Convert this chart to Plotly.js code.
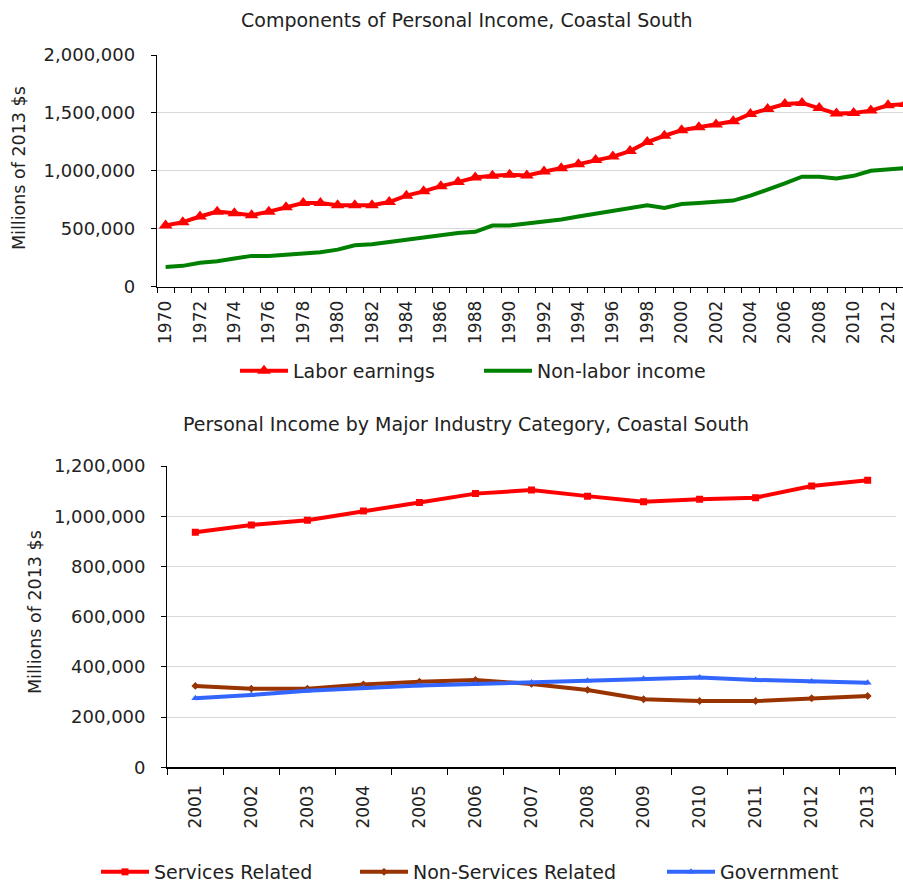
<!DOCTYPE html>
<html>
<head>
<meta charset="utf-8">
<script src="https://cdn.plot.ly/plotly-3.0.1.min.js"></script>
<style>html,body{margin:0;padding:0;background:#fff;}#chart{width:903px;height:882px;}</style>
</head>
<body>
<div id="chart"></div>
<script>
// ---- Top chart data ----
const topYears = [1970,1971,1972,1973,1974,1975,1976,1977,1978,1979,1980,1981,1982,1983,1984,1985,1986,1987,1988,1989,1990,1991,1992,1993,1994,1995,1996,1997,1998,1999,2000,2001,2002,2003,2004,2005,2006,2007,2008,2009,2010,2011,2012,2013];
const laborEarnings = [528000,557000,606000,648000,634000,617000,648000,686000,723000,723000,703000,703000,703000,731000,786000,823000,868000,903000,943000,957000,966000,960000,994000,1023000,1057000,1094000,1123000,1171000,1249000,1303000,1351000,1377000,1400000,1428000,1491000,1534000,1577000,1586000,1543000,1494000,1500000,1520000,1566000,1577000];
const nonLaborIncome = [171000,180000,206000,220000,243000,266000,266000,274000,286000,297000,320000,357000,366000,386000,406000,429000,451000,463000,474000,528000,528000,543000,557000,580000,606000,629000,651000,677000,703000,680000,714000,723000,731000,743000,786000,834000,891000,949000,949000,934000,957000,1000000,1014000,1023000];
const topTickYears = [1970,1972,1974,1976,1978,1980,1982,1984,1986,1988,1990,1992,1994,1996,1998,2000,2002,2004,2006,2008,2010,2012];

// ---- Bottom chart data ----
const botYears = [2001,2002,2003,2004,2005,2006,2007,2008,2009,2010,2011,2012,2013];
const servicesRelated = [936000,965000,984000,1021000,1055000,1090000,1104000,1080000,1058000,1068000,1074000,1120000,1143000];
const nonServicesRelated = [324000,313000,313000,330000,341000,348000,332000,308000,271000,264000,264000,275000,284000];
const government = [275000,288000,305000,317000,326000,332000,338000,345000,353000,358000,348000,342000,337000];

const FONT = "DejaVu Sans, Liberation Sans, Arial, sans-serif";
const W = 903, H = 882;
const px = x => x / W;
const py = y => 1 - y / H;

const traces = [
  {x: topYears, y: laborEarnings, name: 'Labor earnings', type: 'scatter', mode: 'lines+markers',
   line: {color: '#FF0000', width: 4}, marker: {symbol: 'triangle-up', size: 12, color: '#FF0000'},
   xaxis: 'x', yaxis: 'y', legend: 'legend'},
  {x: topYears, y: nonLaborIncome, name: 'Non-labor income', type: 'scatter', mode: 'lines',
   line: {color: '#008000', width: 4}, xaxis: 'x', yaxis: 'y', legend: 'legend2'},
  {x: botYears, y: servicesRelated, name: 'Services Related', type: 'scatter', mode: 'lines+markers',
   line: {color: '#FF0000', width: 4}, marker: {symbol: 'square', size: 7, color: '#FF0000'},
   xaxis: 'x2', yaxis: 'y2', legend: 'legend3'},
  {x: botYears, y: nonServicesRelated, name: 'Non-Services Related', type: 'scatter', mode: 'lines+markers',
   line: {color: '#993300', width: 4}, marker: {symbol: 'diamond', size: 6, color: '#993300'},
   xaxis: 'x2', yaxis: 'y2', legend: 'legend4'},
  {x: botYears, y: government, name: 'Government', type: 'scatter', mode: 'lines+markers',
   line: {color: '#3366FF', width: 4}, marker: {symbol: 'triangle-up', size: 7, color: '#3366FF'},
   xaxis: 'x2', yaxis: 'y2', legend: 'legend5'}
];

const axisCommon = {
  showline: true, linecolor: '#000', linewidth: 1.2, zeroline: false, automargin: false,
  tickfont: {family: FONT, size: 18, color: '#222'}
};

function leg(xLeft, yMid) {
  return {
    orientation: 'h', x: px(xLeft), xanchor: 'left', y: py(yMid), yanchor: 'middle',
    font: {family: FONT, size: 19, color: '#222'}, bgcolor: 'rgba(0,0,0,0)',
    itemwidth: 48, borderwidth: 0, tracegroupgap: 0
  };
}

const layout = {
  width: W, height: H,
  margin: {l: 0, r: 0, t: 0, b: 0, pad: 0, autoexpand: false},
  paper_bgcolor: '#fff', plot_bgcolor: '#fff',
  font: {family: FONT, color: '#222'},
  xaxis: Object.assign({}, axisCommon, {
    domain: [px(157), 1], anchor: 'y',
    range: [1969.5, 2012.87], showgrid: false,
    tickmode: 'array', tickvals: topTickYears, ticktext: topTickYears.map(String),
    ticks: '', tickangle: -90, ticklabelstandoff: 6,
    tickfont: {family: FONT, size: 17, color: '#222'},
    minor: {tickmode: 'linear', tick0: 1969.5, dtick: 1, ticks: 'outside', ticklen: 5, tickcolor: '#000', tickwidth: 1, showgrid: false}
  }),
  yaxis: Object.assign({}, axisCommon, {
    domain: [py(286.7), py(55)], anchor: 'x',
    range: [0, 2000000], tickvals: [0,500000,1000000,1500000,2000000], tickmode: 'array',
    tickformat: ',d', ticks: 'outside', ticklen: 5, tickcolor: '#000', ticklabelstandoff: 12,
    showgrid: true, gridcolor: '#d9d9d9', gridwidth: 1
  }),
  xaxis2: Object.assign({}, axisCommon, {
    domain: [px(167.3), px(895.7)], anchor: 'y2',
    range: [2000.5, 2013.5], showgrid: false,
    tickmode: 'array', tickvals: botYears, ticktext: botYears.map(String),
    ticks: '', tickangle: -90, ticklabelstandoff: 10,
    tickfont: {family: FONT, size: 17, color: '#222'},
    minor: {tickmode: 'linear', tick0: 2000.5, dtick: 1, ticks: 'outside', ticklen: 6, tickcolor: '#000', tickwidth: 1, showgrid: false}
  }),
  yaxis2: Object.assign({}, axisCommon, {
    domain: [py(767.3), py(466)], anchor: 'x2',
    range: [0, 1200000], tickmode: 'array', tickvals: [0,200000,400000,600000,800000,1000000,1200000],
    tickformat: ',d', ticks: 'outside', ticklen: 5, tickcolor: '#000', ticklabelstandoff: 12,
    showgrid: true, gridcolor: '#d9d9d9', gridwidth: 1
  }),
  legend: leg(235, 371),
  legend2: leg(479, 371),
  legend3: leg(96, 872),
  legend4: leg(355, 872),
  legend5: leg(662, 872),
  annotations: [
    {text: 'Components of Personal Income, Coastal South', xref: 'paper', yref: 'paper',
     x: px(466), y: py(20), xanchor: 'center', yanchor: 'middle', showarrow: false,
     font: {family: FONT, size: 19, color: '#222'}},
    {text: 'Personal Income by Major Industry Category, Coastal South', xref: 'paper', yref: 'paper',
     x: px(466), y: py(424), xanchor: 'center', yanchor: 'middle', showarrow: false,
     font: {family: FONT, size: 19, color: '#222'}},
    {text: 'Millions of 2013 $s', xref: 'paper', yref: 'paper', textangle: -90,
     x: px(19), y: py(168), xanchor: 'center', yanchor: 'middle', showarrow: false,
     font: {family: FONT, size: 17.5, color: '#222'}},
    {text: 'Millions of 2013 $s', xref: 'paper', yref: 'paper', textangle: -90,
     x: px(35), y: py(612), xanchor: 'center', yanchor: 'middle', showarrow: false,
     font: {family: FONT, size: 17.5, color: '#222'}}
  ],
  showlegend: true
};

Plotly.newPlot('chart', traces, layout, {staticPlot: true, displayModeBar: false});
</script>
</body>
</html>
